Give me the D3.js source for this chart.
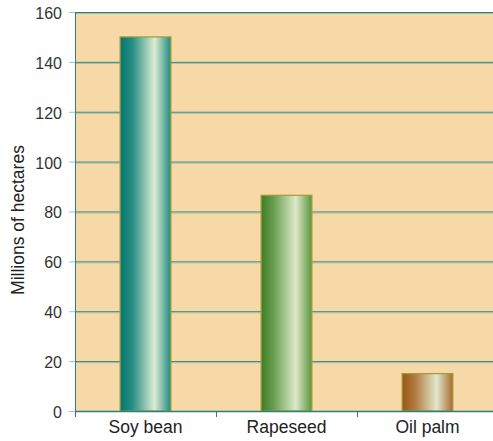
<!DOCTYPE html>
<html><head><meta charset="utf-8">
<script src="https://cdn.jsdelivr.net/npm/d3@7"></script>
<style>body{margin:0;background:#fff}svg{display:block}text{font-family:"Liberation Sans",Arial,sans-serif}</style>
</head><body>
<svg id="c" width="493" height="441"></svg>
<script>
const categories = ["Soy bean", "Rapeseed", "Oil palm"];
const values = [150, 86.5, 15];
const yTicks = [0, 20, 40, 60, 80, 100, 120, 140, 160];
const gradients = [
  ["#00776e", "#2a8f86", "#dcecd2", "#1f8a80"],
  ["#3e7e26", "#6a9e52", "#dde9c8", "#5a963e"],
  ["#985716", "#b07a40", "#e2e8cc", "#a96a30"]
];

const svg = d3.select("#c");
const L = 75, R = 498, T = 12, B = 411;
const x = d3.scaleBand().domain(categories).range([L, R]).padding(0);
const y = d3.scaleLinear().domain([0, 160]).range([B, T]);

svg.append("rect").attr("x", L).attr("y", T).attr("width", R - L).attr("height", B - T).attr("fill", "#f6d9a7");

const defs = svg.append("defs");
gradients.forEach((g, i) => {
  const lg = defs.append("linearGradient").attr("id", "g" + i).attr("x1", 0).attr("x2", 1).attr("y1", 0).attr("y2", 0);
  [[0, g[0]], [0.25, g[1]], [0.68, g[2]], [1, g[3]]].forEach(s => lg.append("stop").attr("offset", s[0]).attr("stop-color", s[1]));
});

// gridlines
yTicks.filter(t => t > 0).forEach(t => {
  svg.append("line").attr("x1", L).attr("x2", 493).attr("y1", y(t) + 0.5).attr("y2", y(t) + 0.5).attr("stroke", "#2b7f7c").attr("stroke-width", 1);
  svg.append("line").attr("x1", L).attr("x2", 493).attr("y1", y(t) + 1.5).attr("y2", y(t) + 1.5).attr("stroke", "#9fbfb0").attr("stroke-width", 1);
});

// bars
const bw = x.bandwidth() * 0.36;
svg.selectAll("rect.bar").data(categories).enter().append("rect").attr("class", "bar")
  .attr("x", d => x(d) + x.bandwidth() / 2 - bw / 2)
  .attr("y", (d, i) => y(values[i]))
  .attr("width", bw)
  .attr("height", (d, i) => B - y(values[i]))
  .attr("fill", (d, i) => "url(#g" + i + ")")
  .attr("stroke", "#a39a3a").attr("stroke-width", 1.2);

// y axis
const ya = svg.append("g").attr("transform", `translate(${L},0)`).call(d3.axisLeft(y).tickValues(yTicks).tickSize(6).tickSizeOuter(0).tickPadding(7));
ya.select(".domain").attr("stroke", "#2b7f7c");
ya.selectAll(".tick line").attr("stroke", "#a9bcc0");
ya.selectAll(".tick text").attr("font-size", 16).attr("fill", "#333").attr("dy", "0.4em");

// x axis
const xa = svg.append("g").attr("transform", `translate(0,${B})`).call(d3.axisBottom(x).tickSize(0).tickPadding(10));
xa.select(".domain").attr("stroke", "#2b7f7c").attr("stroke-width", 1.5);
xa.selectAll(".tick text").attr("font-size", 17.5).attr("fill", "#222").attr("y", 22).attr("dy", 0);
categories.forEach(c => {
  xa.append("line").attr("x1", x(c) + 0.5).attr("x2", x(c) + 0.5).attr("y1", 0).attr("y2", 6).attr("stroke", "#2b7f7c");
});

svg.append("text").attr("transform", "translate(24,220) rotate(-90)").attr("text-anchor", "middle")
  .attr("font-size", 17.5).attr("fill", "#222").text("Millions of hectares");
</script>
</body></html>
